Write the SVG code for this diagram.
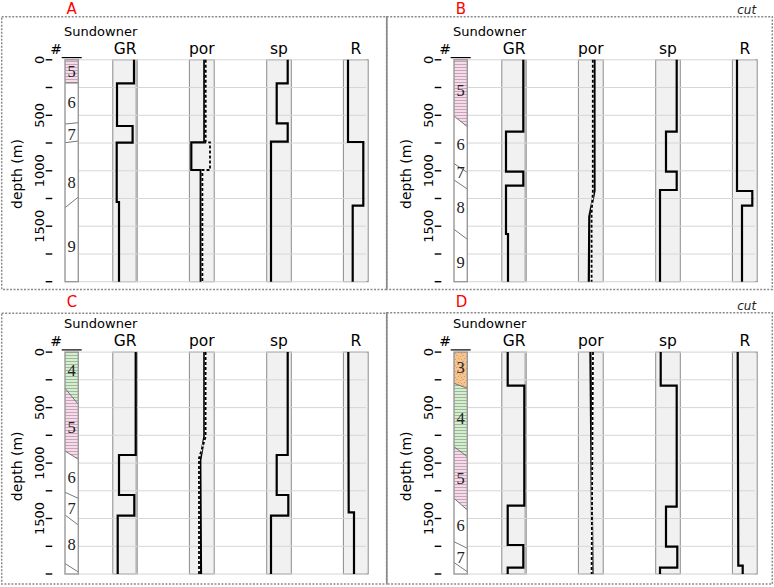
<svg xmlns="http://www.w3.org/2000/svg" xmlns:xlink="http://www.w3.org/1999/xlink" width="774" height="587" viewBox="0 0 774 587">
<style>
.frame{fill:none;stroke:#8a8a8a;stroke-width:1.5;stroke-dasharray:2 1.5}
.track{fill:#f1f1f1;stroke:#8c8c8c;stroke-width:1}
.grid{stroke:#d6d6d6;stroke-width:1}
.tick{stroke:#000;stroke-width:1.4}
.tl{font-family:"DejaVu Sans",sans-serif;font-size:13px;fill:#000}
.ax{font-family:"DejaVu Sans",sans-serif;font-size:14px;fill:#000}
.hd{font-family:"DejaVu Sans",sans-serif;font-size:15.5px;fill:#000;text-anchor:middle}
.well{font-family:"DejaVu Sans",sans-serif;font-size:13px;fill:#000;text-anchor:middle}
.unit{font-family:"Liberation Serif",serif;font-size:16.5px;fill:#222;text-anchor:middle}
.pl{font-family:"DejaVu Sans",sans-serif;font-size:15px;fill:#ff0000;text-anchor:middle}
.cut{font-family:"DejaVu Sans",sans-serif;font-size:12px;font-style:italic;fill:#222;text-anchor:middle}
.bnd{stroke:#555;stroke-width:0.8;fill:none}
.col{fill:none;stroke:#999;stroke-width:1.4}
.crv{fill:none;stroke:#000;stroke-width:2.2;stroke-linejoin:miter}
.dsh{fill:none;stroke:#000;stroke-width:1.8;stroke-dasharray:3 2}
.dshw{fill:none;stroke:#fff;stroke-width:1.6}
</style>
<defs>
<pattern id="pink" width="4" height="3" patternUnits="userSpaceOnUse"><rect width="4" height="3" fill="#f6dbe8"/><line x1="0" y1="1.5" x2="4" y2="1.5" stroke="#a8809a" stroke-width="0.6"/></pattern>
<pattern id="green" width="4" height="3" patternUnits="userSpaceOnUse"><rect width="4" height="3" fill="#d8ecd2"/><line x1="0" y1="1.5" x2="4" y2="1.5" stroke="#6d986d" stroke-width="0.6"/></pattern>
<pattern id="orange" width="6" height="6" patternUnits="userSpaceOnUse"><rect width="6" height="6" fill="#f8c48e"/><circle cx="1" cy="1.2" r="0.45" fill="#7a4a20"/><circle cx="4.2" cy="2.6" r="0.45" fill="#7a4a20"/><circle cx="2.3" cy="4.6" r="0.45" fill="#7a4a20"/><circle cx="5.3" cy="5.4" r="0.4" fill="#7a4a20"/></pattern>
<g id="base">
<rect class="track" x="112.8" y="59.8" width="24.6" height="221.9"/>
<line x1="136.6" y1="59.8" x2="136.6" y2="281.7" stroke="#b5b5b5" stroke-width="2.4"/>
<rect class="track" x="189.4" y="59.8" width="24.8" height="221.9"/>
<rect class="track" x="266.7" y="59.8" width="24.6" height="221.9"/>
<rect class="track" x="343.4" y="59.8" width="24.8" height="221.9"/>
<g class="grid">
<line x1="78.3" y1="59.8" x2="366" y2="59.8"/>
<line x1="78.3" y1="87.5" x2="366" y2="87.5"/>
<line x1="78.3" y1="115.3" x2="366" y2="115.3"/>
<line x1="78.3" y1="143" x2="366" y2="143"/>
<line x1="78.3" y1="170.8" x2="366" y2="170.8"/>
<line x1="78.3" y1="198.5" x2="366" y2="198.5"/>
<line x1="78.3" y1="226.2" x2="366" y2="226.2"/>
<line x1="78.3" y1="254" x2="366" y2="254"/>
<line x1="78.3" y1="281.7" x2="366" y2="281.7"/>
</g>
<g class="tick">
<line x1="45.7" y1="59.8" x2="52.3" y2="59.8"/>
<line x1="45.7" y1="87.5" x2="52.3" y2="87.5"/>
<line x1="45.7" y1="115.3" x2="52.3" y2="115.3"/>
<line x1="45.7" y1="143" x2="52.3" y2="143"/>
<line x1="45.7" y1="170.8" x2="52.3" y2="170.8"/>
<line x1="45.7" y1="198.5" x2="52.3" y2="198.5"/>
<line x1="45.7" y1="226.2" x2="52.3" y2="226.2"/>
<line x1="45.7" y1="254" x2="52.3" y2="254"/>
<line x1="45.7" y1="281.7" x2="52.3" y2="281.7"/>
</g>
<text class="tl" text-anchor="middle" transform="translate(43.5,59.8) rotate(-90)">0</text>
<text class="tl" text-anchor="middle" transform="translate(43.5,115.3) rotate(-90)">500</text>
<text class="tl" text-anchor="middle" transform="translate(43.5,170.8) rotate(-90)">1000</text>
<text class="tl" text-anchor="middle" transform="translate(43.5,226.2) rotate(-90)">1500</text>
<text class="ax" text-anchor="middle" transform="translate(21.5,174) rotate(-90)">depth (m)</text>
<text class="well" x="100.7" y="36">Sundowner</text>
<text class="hd" x="56" y="53.5" style="font-size:14px">#</text>
<text class="hd" x="125.1" y="54">GR</text>
<text class="hd" x="201.8" y="54">por</text>
<text class="hd" x="279" y="54">sp</text>
<text class="hd" x="355.8" y="54">R</text>
<line x1="61.7" y1="57.6" x2="81.7" y2="57.6" stroke="#000" stroke-width="1.2"/>
</g>
<rect id="colrect" class="col" x="65" y="59.8" width="13.3" height="221.9"/>
</defs>

<g id="frames">
<rect class="frame" x="1.7" y="16.7" width="385" height="272.8"/>
<rect class="frame" x="386.7" y="16.7" width="385.6" height="272.8"/>
<rect class="frame" x="1.7" y="313.3" width="385" height="270.7"/>
<rect class="frame" x="386.7" y="312.8" width="385.6" height="271.2"/>
<line x1="386.7" y1="17" x2="386.7" y2="289" stroke="#8a8a8a" stroke-width="1.5"/>
<line x1="386.7" y1="313" x2="386.7" y2="583.5" stroke="#8a8a8a" stroke-width="1.5"/>
<text class="pl" x="71.7" y="14">A</text>
<text class="pl" x="461" y="14">B</text>
<text class="pl" x="72" y="306.7">C</text>
<text class="pl" x="461.5" y="307">D</text>
<text class="cut" x="746.7" y="14">cut</text>
<text class="cut" x="746.7" y="309.5">cut</text>
</g>

<g id="panel-A">
<use xlink:href="#base"/>
<g id="A-strat">
<polygon points="65,59.8 78.3,59.8 78.3,83 65,83" fill="url(#pink)"/>
<line class="bnd" x1="65" y1="83" x2="78.3" y2="83"/>
<line class="bnd" x1="65" y1="124" x2="78.3" y2="122.7"/>
<line class="bnd" x1="65" y1="142.7" x2="78.3" y2="141"/>
<line class="bnd" x1="65" y1="207.7" x2="78.3" y2="197"/>
<use xlink:href="#colrect"/>
<text class="unit" x="71.7" y="76.5">5</text>
<text class="unit" x="71.7" y="107.8">6</text>
<text class="unit" x="71.7" y="139.5">7</text>
<text class="unit" x="71.7" y="187.5">8</text>
<text class="unit" x="71.7" y="252">9</text>
</g>
<g id="A-logs">
<polyline class="crv" points="134,59.8 134,83.3 117,83.3 117,126 132.6,126 132.6,142.6 116.7,142.6 116.7,202 119,202 119,281.7"/>
<polyline class="crv" points="204.3,59.8 204.3,142.3 191.3,142.3 191.3,170 200.7,170 200.7,281.7"/>
<polyline class="dshw" points="205.7,59.8 205.7,142.3 210,142.3 210,170 202.4,170 202.4,281.7"/>
<polyline class="dsh" points="205.7,59.8 205.7,142.3 210,142.3 210,170 202.4,170 202.4,281.7"/>
<polyline class="crv" points="287.7,59.8 287.7,83.3 276.7,83.3 276.7,123.3 287.7,123.3 287.7,141.7 271,141.7 271,281.7"/>
<polyline class="crv" points="348,59.8 348,142 363.3,142 363.3,205.7 352.7,205.7 352.7,281.7"/>
</g>
</g>

<g id="panel-B">
<use xlink:href="#base" transform="translate(389,0)"/>
<g id="B-strat">
<polygon points="454,59.8 467.3,59.8 467.3,126.7 454,116" fill="url(#pink)"/>
<line class="bnd" x1="454" y1="116" x2="467.3" y2="126.7"/>
<line class="bnd" x1="454" y1="163.5" x2="467.3" y2="172.5"/>
<line class="bnd" x1="454" y1="180" x2="467.3" y2="189"/>
<line class="bnd" x1="454" y1="229.3" x2="467.3" y2="239.3"/>
<use xlink:href="#colrect" transform="translate(389,0)"/>
<text class="unit" x="460.7" y="95.8">5</text>
<text class="unit" x="460.7" y="149.8">6</text>
<text class="unit" x="460.7" y="177.5">7</text>
<text class="unit" x="460.7" y="212.5">8</text>
<text class="unit" x="460.7" y="267.5">9</text>
</g>
<g id="B-logs">
<polyline class="crv" points="523.3,59.8 523.3,131.7 506,131.7 506,171.7 523.3,171.7 523.3,185.7 506,185.7 506,234 508,234 508,281.7"/>
<polyline class="crv" points="594.5,59.8 594.5,191 589.3,216.7 588.8,281.7"/>
<polyline class="dshw" points="592.8,59.8 592.8,192 591.6,214 591.6,281.7"/>
<polyline class="dsh" points="592.8,59.8 592.8,192 591.6,214 591.6,281.7"/>
<polyline class="crv" points="676.7,59.8 676.7,131.7 666,131.7 666,171.7 676.7,171.7 676.7,190 660,190 660,281.7"/>
<polyline class="crv" points="737,59.8 737,191 752.3,191 752.3,205.7 742,205.7 742,281.7"/>
</g>
</g>

<g id="panel-C">
<use xlink:href="#base" transform="translate(0,292.3)"/>
<g id="C-strat">
<polygon points="65,352.1 78.3,352.1 78.3,404.3 65,388.3" fill="url(#green)"/>
<polygon points="65,388.3 78.3,404.3 78.3,459.3 65,451" fill="url(#pink)"/>
<line class="bnd" x1="65" y1="388.3" x2="78.3" y2="404.3"/>
<line class="bnd" x1="65" y1="451" x2="78.3" y2="459.3"/>
<line class="bnd" x1="65" y1="492.3" x2="78.3" y2="498.3"/>
<line class="bnd" x1="65" y1="515" x2="78.3" y2="525"/>
<line class="bnd" x1="65" y1="563.5" x2="78.3" y2="572"/>
<use xlink:href="#colrect" transform="translate(0,292.3)"/>
<text class="unit" x="71.7" y="375.8">4</text>
<text class="unit" x="71.7" y="432.5">5</text>
<text class="unit" x="71.7" y="482.5">6</text>
<text class="unit" x="71.7" y="514">7</text>
<text class="unit" x="71.7" y="550">8</text>
</g>
<g id="C-logs">
<polyline class="crv" points="135.7,352.1 135.7,455 119,455 119,495 134.3,495 134.3,515.7 117.7,515.7 117.7,574"/>
<polyline class="crv" points="204.3,352.1 204.3,436.7 200.3,460 201,574"/>
<polyline class="dshw" points="205.6,352.1 205.6,437 199,458 199,574"/>
<polyline class="dsh" points="205.6,352.1 205.6,437 199,458 199,574"/>
<polyline class="crv" points="287.7,352.1 287.7,455 276.7,455 276.7,495 288.3,495 288.3,515.7 271,515.7 271,574"/>
<polyline class="crv" points="348.3,352.1 348.7,512.3 354,512.3 354,574"/>
</g>
</g>

<g id="panel-D">
<use xlink:href="#base" transform="translate(389,292.3)"/>
<g id="D-strat">
<polygon points="454,352.1 467.3,352.1 467.3,388.3 454,383.3" fill="url(#orange)"/>
<polygon points="454,383.3 467.3,388.3 467.3,456.7 454,446.7" fill="url(#green)"/>
<polygon points="454,446.7 467.3,456.7 467.3,510 454,498.3" fill="url(#pink)"/>
<line class="bnd" x1="454" y1="383.3" x2="467.3" y2="388.3"/>
<line class="bnd" x1="454" y1="446.7" x2="467.3" y2="456.7"/>
<line class="bnd" x1="454" y1="498.3" x2="467.3" y2="510"/>
<line class="bnd" x1="454" y1="541.7" x2="467.3" y2="548.3"/>
<line class="bnd" x1="454" y1="562.5" x2="467.3" y2="571.7"/>
<use xlink:href="#colrect" transform="translate(389,292.3)"/>
<text class="unit" x="460.7" y="372.5">3</text>
<text class="unit" x="460.7" y="424">4</text>
<text class="unit" x="460.7" y="483.5">5</text>
<text class="unit" x="460.7" y="530.8">6</text>
<text class="unit" x="460.7" y="562.5">7</text>
</g>
<g id="D-logs">
<polyline class="crv" points="507.7,352.1 507.7,385.7 524.3,385.7 524.3,505.7 507.7,505.7 507.7,545 523.3,545 523.3,567.7 507.7,567.7 507.7,574"/>
<polyline class="crv" points="590.4,352.1 592.5,574"/>
<polyline class="dshw" points="593,352.1 591.6,574"/>
<polyline class="dsh" points="593,352.1 591.6,574"/>
<polyline class="crv" points="660.7,352.1 660.7,385.7 676.7,385.7 676.7,506.7 666,506.7 666,546.7 677.3,546.7 677.3,567.7 660,567.7 660,574"/>
<polyline class="crv" points="737.7,352.1 738.3,565.7 742.7,565.7 742.7,574"/>
</g>
</g>
</svg>
